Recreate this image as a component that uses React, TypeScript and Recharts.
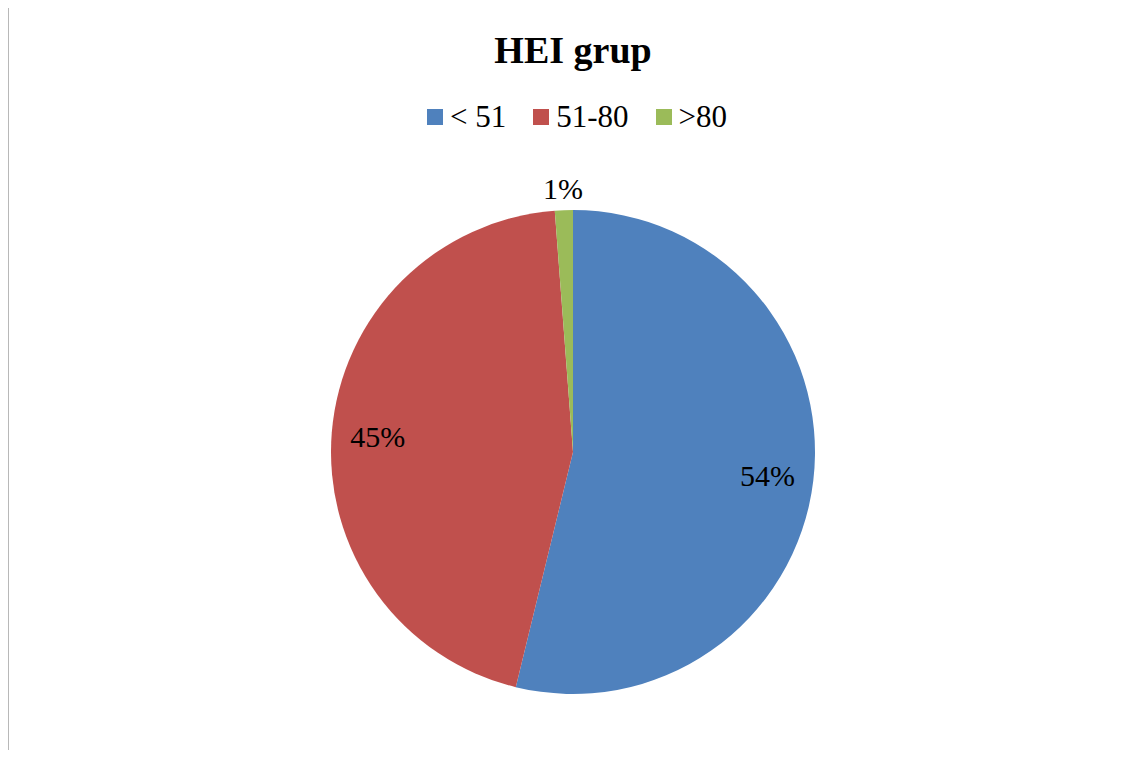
import { PieChart, Pie, Cell } from 'recharts';

const categories = ['< 51', '51-80', '>80'];
const shares = [53.8, 45.0, 1.2];
const colors = ['#4f81bd', '#c0504d', '#9bbb59'];

const data = categories.map((name, i) => ({ name, value: shares[i] }));

const RADIAN = Math.PI / 180;
const serif = '"Liberation Serif", "Times New Roman", serif';

const renderLabel = (props: any) => {
  const { cx, cy, midAngle, outerRadius, percent } = props;
  // small slices get their label outside, like Excel's best fit
  const r = percent < 0.05 ? outerRadius + 22 : outerRadius * 0.81;
  const x = cx + r * Math.cos(-midAngle * RADIAN);
  const y = cy + r * Math.sin(-midAngle * RADIAN);
  return (
    <text
      x={x}
      y={y}
      textAnchor="middle"
      dominantBaseline="central"
      fill="#000"
      style={{ fontFamily: serif, fontSize: 30 }}
    >
      {`${Math.round(percent * 100)}%`}
    </text>
  );
};

function ChartLegend() {
  return (
    <div
      style={{
        position: 'absolute',
        left: 10,
        top: 97,
        width: 1134,
        display: 'flex',
        justifyContent: 'center',
        alignItems: 'center',
        fontFamily: serif,
        fontSize: 31,
        lineHeight: '40px',
        color: '#000',
      }}
    >
      {categories.map((c, i) => (
        <div key={c} style={{ display: 'flex', alignItems: 'center', marginRight: i < categories.length - 1 ? 27 : 0 }}>
          <span style={{ display: 'inline-block', width: 16, height: 16, background: colors[i], marginRight: 7 }} />
          <span>{c}</span>
        </div>
      ))}
    </div>
  );
}

export default function App() {
  return (
    <div style={{ position: 'relative', width: 1134, height: 758, margin: -8, background: '#fff', overflow: 'hidden' }}>
      <div
        style={{
          position: 'absolute',
          left: 7,
          top: 6,
          width: 1126,
          height: 760,
          borderTop: '2px solid #b8b8b8',
          borderLeft: '2px solid #b8b8b8',
        }}
      />
      <div
        style={{
          position: 'absolute',
          left: 0,
          top: 28,
          width: 1146,
          textAlign: 'center',
          fontFamily: serif,
          fontWeight: 'bold',
          fontSize: 38,
          lineHeight: '44px',
          color: '#000',
        }}
      >
        HEI grup
      </div>
      <ChartLegend />
      <div style={{ position: 'absolute', left: 0, top: 0 }}>
        <PieChart width={1134} height={758} margin={{ top: 0, right: 0, bottom: 0, left: 0 }}>
          <Pie
            data={data}
            dataKey="value"
            nameKey="name"
            cx={573}
            cy={452}
            outerRadius={242}
            startAngle={90}
            endAngle={-270}
            stroke="none"
            label={renderLabel}
            labelLine={false}
            isAnimationActive={false}
          >
            {data.map((d, i) => (
              <Cell key={d.name} fill={colors[i]} />
            ))}
          </Pie>
        </PieChart>
      </div>
    </div>
  );
}
